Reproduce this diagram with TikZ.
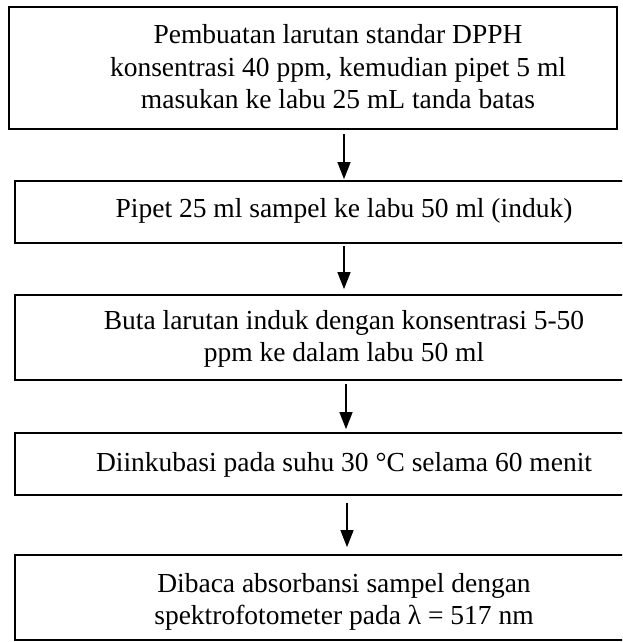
\documentclass[tikz,border=0pt]{standalone}
\usepackage{fontspec}
\setmainfont{Liberation Serif}
\usetikzlibrary{arrows.meta}
\begin{document}
\begin{tikzpicture}[x=1pt,y=-1pt,
  stepbox/.style={draw=black,line width=1.8pt,inner sep=0pt,anchor=center},
  steptext/.style={align=center,font=\fontsize{27.5}{32.5}\selectfont,inner sep=0pt,anchor=center},
  flow/.style={line width=1.4pt,-{Triangle[width=13pt,length=17pt]}}]
\useasboundingbox (0,0) rectangle (622,642);
\clip (0,0) rectangle (622,642);
\node[stepbox,minimum width=608pt,minimum height=122pt] (b1) at (313,68) {};
\node[steptext] (t1) at (338,67) {Pembuatan larutan standar DPPH\\konsentrasi 40 ppm, kemudian pipet 5 ml\\masukan ke labu 25 mL tanda batas};
\node[stepbox,minimum width=658pt,minimum height=62pt] (b2) at (344,212) {};
\node[steptext] (t2) at (344,211) {Pipet 25 ml sampel ke labu 50 ml (induk)};
\node[stepbox,minimum width=658pt,minimum height=85pt] (b3) at (344,337.5) {};
\node[steptext] (t3) at (344,339) {Buta larutan induk dengan konsentrasi 5-50\\ppm ke dalam labu 50 ml};
\node[stepbox,minimum width=658pt,minimum height=62pt] (b4) at (344,464) {};
\node[steptext] (t4) at (344,465) {Diinkubasi pada suhu 30 °C selama 60 menit};
\node[stepbox,minimum width=658pt,minimum height=85pt] (b5) at (344,597.5) {};
\node[steptext] (t5) at (344,602) {Dibaca absorbansi sampel dengan\\spektrofotometer pada λ = 517 nm};
\draw[flow] ([yshift=-4pt]b2.north |- b1.south) -- ([yshift=1pt]b2.north);
\draw[flow] ([yshift=-2pt]b2.south) -- ([yshift=5pt]b2.south |- b3.north);
\draw[flow] ([xshift=2pt,yshift=-3pt]b3.south) -- ([xshift=2pt,yshift=3pt]b4.north);
\draw[flow] ([xshift=3pt,yshift=-7pt]b4.south) -- ([xshift=3pt,yshift=7pt]b5.north);
\end{tikzpicture}
\end{document}
